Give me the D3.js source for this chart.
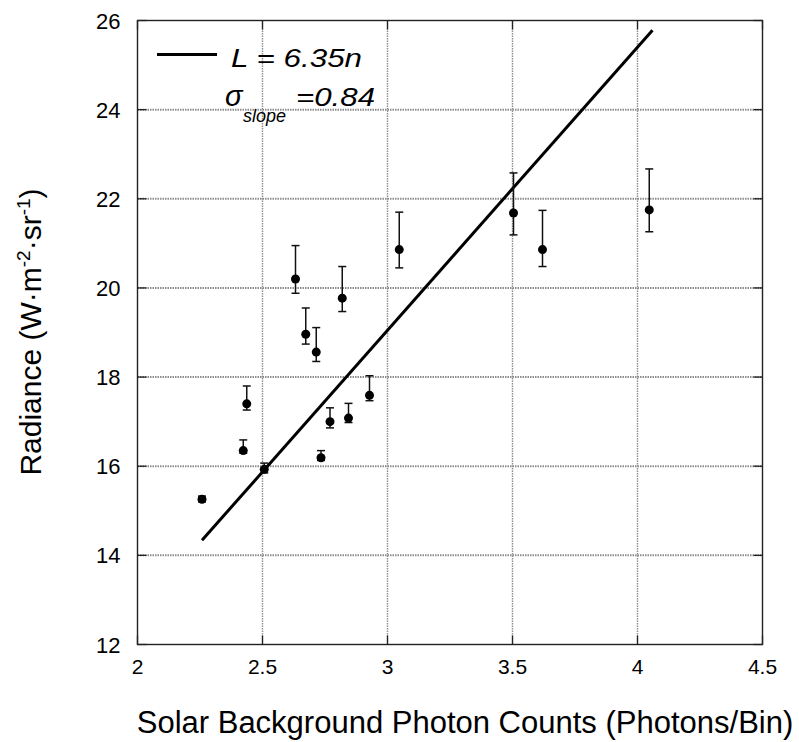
<!DOCTYPE html>
<html>
<head>
<meta charset="utf-8">
<script src="https://cdn.jsdelivr.net/npm/d3@7"></script>
<style>
  body { margin: 0; background: #fff; }
  text { font-family: "Liberation Sans", Arial, sans-serif; fill: #000; }
</style>
</head>
<body>
<div id="chart"></div>
<script>
// photon counts vs radiance, with asymmetric error bars
var counts   = [2.258, 2.423, 2.437, 2.507, 2.632, 2.673, 2.715, 2.734, 2.770, 2.819, 2.844, 2.928, 3.047, 3.504, 3.620, 4.047];
var radiance = [15.26, 16.35, 17.40, 15.93, 20.20, 18.96, 18.56, 16.19, 17.00, 19.77, 17.08, 17.59, 20.86, 21.68, 20.86, 21.75];
var errHigh  = [15.33, 16.59, 17.80, 16.07, 20.95, 19.55, 19.11, 16.35, 17.31, 20.48, 17.41, 18.03, 21.70, 22.58, 21.74, 22.67];
var errLow   = [15.20, 16.29, 17.26, 15.85, 19.88, 18.74, 18.35, 16.13, 16.86, 19.47, 16.98, 17.47, 20.45, 21.19, 20.48, 21.26];

var fitSlope = 6.35;
var fitRange = [2.258, 4.06];

var xTicks = [2, 2.5, 3, 3.5, 4, 4.5];
var yTicks = [12, 14, 16, 18, 20, 22, 24, 26];

var width = 799, height = 742;
var x = d3.scaleLinear().domain([2, 4.5]).range([137.5, 762.5]);
var y = d3.scaleLinear().domain([12, 26]).range([644.5, 20.5]);

var svg = d3.select("#chart").append("svg")
    .attr("width", width)
    .attr("height", height);

// grid
svg.selectAll(".vgrid")
    .data(xTicks.slice(1, -1))
    .enter().append("line")
    .attr("x1", d => x(d)).attr("x2", d => x(d))
    .attr("y1", y(26)).attr("y2", y(12))
    .style("stroke", "#8c8c8c").style("stroke-width", 1.4)
    .style("stroke-dasharray", "1.5,1");

svg.selectAll(".hgrid")
    .data(yTicks.slice(1, -1))
    .enter().append("line")
    .attr("y1", d => y(d)).attr("y2", d => y(d))
    .attr("x1", x(2)).attr("x2", x(4.5))
    .style("stroke", "#8c8c8c").style("stroke-width", 2)
    .style("stroke-dasharray", "1.5,1");

// frame
svg.append("rect")
    .attr("x", x(2)).attr("y", y(26))
    .attr("width", x(4.5) - x(2)).attr("height", y(12) - y(26))
    .style("fill", "none").style("stroke", "#222").style("stroke-width", 1.4);

// inward ticks on all sides
var tickLen = 9;
var ticks = svg.append("g").style("stroke", "#222").style("stroke-width", 1.3);
xTicks.forEach(function(d) {
    ticks.append("line").attr("x1", x(d)).attr("x2", x(d)).attr("y1", y(12)).attr("y2", y(12) - tickLen);
    ticks.append("line").attr("x1", x(d)).attr("x2", x(d)).attr("y1", y(26)).attr("y2", y(26) + tickLen);
});
yTicks.forEach(function(d) {
    ticks.append("line").attr("y1", y(d)).attr("y2", y(d)).attr("x1", x(2)).attr("x2", x(2) + tickLen);
    ticks.append("line").attr("y1", y(d)).attr("y2", y(d)).attr("x1", x(4.5)).attr("x2", x(4.5) - tickLen);
});

// tick labels
svg.selectAll(".xlab")
    .data(xTicks)
    .enter().append("text")
    .attr("x", d => x(d))
    .attr("y", y(12) + 29)
    .attr("text-anchor", "middle")
    .style("font-size", "21px")
    .text(d => d);

svg.selectAll(".ylab")
    .data(yTicks)
    .enter().append("text")
    .attr("x", x(2) - 17)
    .attr("y", d => y(d) + 8)
    .attr("text-anchor", "end")
    .style("font-size", "22px")
    .text(d => d);

// axis titles
svg.append("text")
    .attr("x", 465)
    .attr("y", 733)
    .attr("text-anchor", "middle")
    .style("font-size", "31px")
    .text("Solar Background Photon Counts (Photons/Bin)");

var yt = svg.append("text")
    .attr("transform", "translate(41,332) rotate(-90)")
    .attr("text-anchor", "middle")
    .style("font-size", "30px");
yt.append("tspan").text("Radiance (W\u00b7m");
yt.append("tspan").attr("dy", -11).style("font-size", "19px").text("-2");
yt.append("tspan").attr("dy", 11).text("\u00b7sr");
yt.append("tspan").attr("dy", -11).style("font-size", "19px").text("-1");
yt.append("tspan").attr("dy", 11).text(")");

// fit line L = 6.35 n
svg.append("line")
    .attr("x1", x(fitRange[0])).attr("y1", y(fitSlope * fitRange[0]))
    .attr("x2", x(fitRange[1])).attr("y2", y(fitSlope * fitRange[1]))
    .style("stroke", "#000").style("stroke-width", 3);

// error bars
var pts = counts.map(function(c, i) {
    return { x: c, y: radiance[i], hi: errHigh[i], lo: errLow[i] };
});
var capW = 4;
var eb = svg.append("g").style("stroke", "#111").style("stroke-width", 1.5);
pts.forEach(function(d) {
    eb.append("line").attr("x1", x(d.x)).attr("x2", x(d.x)).attr("y1", y(d.hi)).attr("y2", y(d.lo));
    eb.append("line").attr("x1", x(d.x) - capW).attr("x2", x(d.x) + capW).attr("y1", y(d.hi)).attr("y2", y(d.hi));
    eb.append("line").attr("x1", x(d.x) - capW).attr("x2", x(d.x) + capW).attr("y1", y(d.lo)).attr("y2", y(d.lo));
});

svg.selectAll(".dot")
    .data(pts)
    .enter().append("circle")
    .attr("cx", d => x(d.x))
    .attr("cy", d => y(d.y))
    .attr("r", 4.5)
    .style("fill", "#000");

// legend
svg.append("line")
    .attr("x1", 157).attr("x2", 217)
    .attr("y1", 54.5).attr("y2", 54.5)
    .style("stroke", "#000").style("stroke-width", 3);

svg.append("text")
    .attr("x", 231).attr("y", 66.5)
    .attr("textLength", 131).attr("lengthAdjust", "spacingAndGlyphs")
    .style("font-size", "25px").style("font-style", "italic")
    .text("L = 6.35n");

svg.append("text")
    .attr("x", 225).attr("y", 106)
    .style("font-size", "29px").style("font-style", "italic")
    .text("\u03c3");

svg.append("text")
    .attr("x", 243).attr("y", 121.5)
    .style("font-size", "18px").style("font-style", "italic")
    .text("slope");

svg.append("text")
    .attr("x", 296).attr("y", 106)
    .attr("textLength", 79).attr("lengthAdjust", "spacingAndGlyphs")
    .style("font-size", "26px").style("font-style", "italic")
    .text("=0.84");
</script>
</body>
</html>
